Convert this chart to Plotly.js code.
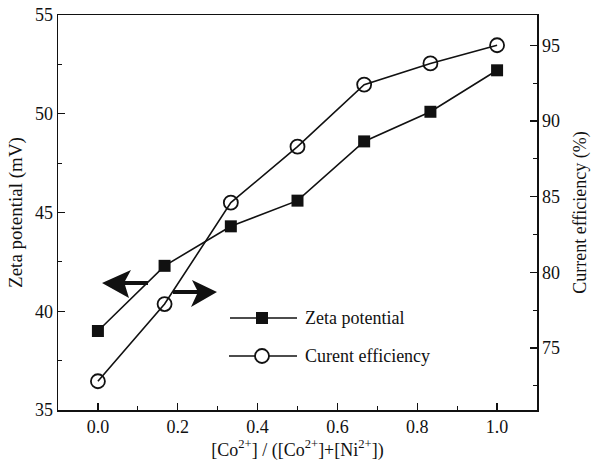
<!DOCTYPE html>
<html><head><meta charset="utf-8">
<script src="https://cdn.plot.ly/plotly-3.0.1.min.js"></script>
<style>body{margin:0;background:#fff}#c{width:591px;height:464px}</style>
</head><body><div id="c"></div>
<script>
const ratio = [0.0, 0.167, 0.333, 0.5, 0.667, 0.833, 1.0];
const zetaPotential = [39.0, 42.3, 44.3, 45.6, 48.6, 50.1, 52.2];
const currentEfficiency = [72.8, 77.9, 84.6, 88.3, 92.4, 93.8, 95.0];
const seriesNames = ["Zeta potential", "Curent efficiency"];
const xTicks = [0, 0.2, 0.4, 0.6, 0.8, 1.0];
const xTickText = ["0.0", "0.2", "0.4", "0.6", "0.8", "1.0"];

const F = "Liberation Serif, Times New Roman, serif";
const INK = "#111";
// plot area in pixels
const L = 58, R = 537, T = 15, B = 410;
const px = X => (X - L) / (R - L);
const py = Y => (B - Y) / (B - T);
const P = pts => "M" + pts.map(p => px(p[0]).toFixed(4) + "," + py(p[1]).toFixed(4)).join(" L") + " Z";

const traces = [
  {x: ratio, y: zetaPotential, name: seriesNames[0], mode: "lines+markers", type: "scatter",
   line: {color: INK, width: 1.6}, marker: {symbol: "square", size: 12, color: INK}},
  {x: ratio, y: currentEfficiency, name: seriesNames[1], mode: "lines+markers", type: "scatter",
   yaxis: "y2", line: {color: INK, width: 1.6},
   marker: {symbol: "circle-open", size: 14, color: INK, line: {width: 1.8, color: INK}}}
];
const minorT = d => ({ticks: "inside", ticklen: 4, tickwidth: 1, tickcolor: INK, dtick: d});
const axBase = {showline: true, linecolor: INK, linewidth: 1.5, ticks: "inside", ticklen: 7,
  tickwidth: 1.3, tickcolor: INK, showgrid: false, zeroline: false,
  tickfont: {family: F, size: 18, color: INK}};
const shapes = [
  // left-pointing arrow (zeta potential -> left axis)
  {type: "path", xref: "paper", yref: "paper", fillcolor: INK, line: {width: 0},
   path: P([[102,283],[131,270],[125,281],[148,281],[148,285],[125,285],[129,298]])},
  // right-pointing arrow (current efficiency -> right axis)
  {type: "path", xref: "paper", yref: "paper", fillcolor: INK, line: {width: 0},
   path: P([[217,292],[192,280],[197,290],[173,290],[173,294],[197,294],[191,307]])},
  // legend samples
  {type: "line", xref: "paper", yref: "paper", x0: px(230), x1: px(297), y0: py(318), y1: py(318),
   line: {color: INK, width: 1.4}},
  {type: "rect", xref: "paper", yref: "paper", x0: px(256), x1: px(268), y0: py(312), y1: py(324),
   fillcolor: INK, line: {width: 0}},
  {type: "line", xref: "paper", yref: "paper", x0: px(229), x1: px(297), y0: py(356), y1: py(356),
   line: {color: INK, width: 1.4}},
  {type: "circle", xref: "paper", yref: "paper", x0: px(255), x1: px(269), y0: py(349), y1: py(363),
   fillcolor: "#fff", line: {color: INK, width: 1.8}}
];
const layout = {
  width: 591, height: 464, margin: {l: L, r: 591 - R, t: T, b: 464 - B},
  paper_bgcolor: "#fff", plot_bgcolor: "#fff", font: {family: F, color: INK},
  showlegend: false,
  xaxis: Object.assign({}, axBase, {range: [-0.1, 1.1], tickvals: xTicks, ticktext: xTickText, mirror: true,
    minor: Object.assign(minorT(0.1), {tick0: 0}),
    title: {text: "[Co<sup>2+</sup>] / ([Co<sup>2+</sup>]+[Ni<sup>2+</sup>])", font: {family: F, size: 18}, standoff: 4}}),
  yaxis: Object.assign({}, axBase, {range: [35, 55], dtick: 5, minor: minorT(2.5),
    title: {text: "Zeta potential (mV)", font: {family: F, size: 19}, standoff: 7}}),
  yaxis2: Object.assign({}, axBase, {overlaying: "y", side: "right", range: [70.9, 97], tick0: 75, dtick: 5,
    minor: Object.assign(minorT(2.5), {tick0: 75}),
    title: {text: "Current efficiency (%)", font: {family: F, size: 18}, standoff: 16}}),
  shapes: shapes,
  annotations: [
    {xref: "paper", yref: "paper", x: px(303), y: py(318), xanchor: "left", yanchor: "middle",
     text: seriesNames[0], showarrow: false, font: {family: F, size: 18, color: INK}},
    {xref: "paper", yref: "paper", x: px(303), y: py(356), xanchor: "left", yanchor: "middle",
     text: seriesNames[1], showarrow: false, font: {family: F, size: 18, color: INK}}
  ]
};
Plotly.newPlot("c", traces, layout, {displayModeBar: false, staticPlot: true});
</script></body></html>
